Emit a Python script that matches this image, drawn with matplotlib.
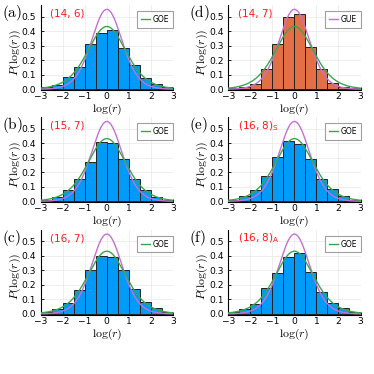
import numpy as np
import matplotlib
matplotlib.use("Agg")
import matplotlib.pyplot as plt
from matplotlib.lines import Line2D

plt.rcParams["mathtext.fontset"] = "cm"

# ---- data ----
bin_edges = [-3.0, -2.5, -2.0, -1.5, -1.0, -0.5, 0.0, 0.5, 1.0, 1.5, 2.0, 2.5, 3.0]
hist_a = [0.018, 0.028, 0.083, 0.151, 0.312, 0.385, 0.408, 0.284, 0.165, 0.078, 0.034, 0.014]
hist_b = [0.012, 0.033, 0.077, 0.155, 0.270, 0.410, 0.400, 0.291, 0.155, 0.080, 0.033, 0.010]
hist_c = [0.014, 0.035, 0.077, 0.164, 0.303, 0.397, 0.390, 0.303, 0.171, 0.082, 0.038, 0.014]
hist_d = [0.010, 0.014, 0.038, 0.141, 0.315, 0.500, 0.520, 0.289, 0.139, 0.042, 0.014, 0.007]
hist_e = [0.012, 0.037, 0.079, 0.174, 0.306, 0.417, 0.398, 0.294, 0.157, 0.088, 0.035, 0.012]
hist_f = [0.012, 0.033, 0.070, 0.178, 0.280, 0.390, 0.418, 0.290, 0.154, 0.077, 0.040, 0.012]

panel_letters = ["a", "b", "c", "d", "e", "f"]
panel_titles = ["(14, 6)", "(15, 7)", "(16, 7)", "(14, 7)",
                "(16, 8)$_\\mathregular{S}$", "(16, 8)$_\\mathregular{A}$"]
legend_labels = ["GOE", "GOE", "GOE", "GUE", "GOE", "GOE"]
hists = [hist_a, hist_b, hist_c, hist_d, hist_e, hist_f]

# Wigner-like surmise for ratio distribution (Atas et al.), beta = 1 (GOE), 2 (GUE)
beta_goe = 1
beta_gue = 2
Z_goe = 8.0 / 27.0
Z_gue = 4.0 * np.pi / (81.0 * np.sqrt(3.0))

xticks = [-3, -2, -1, 0, 1, 2, 3]
xticklabels = ["\u22123", "\u22122", "\u22121", "0", "1", "2", "3"]
yticks = [0.0, 0.1, 0.2, 0.3, 0.4, 0.5]
yticklabels = ["0.0", "0.1", "0.2", "0.3", "0.4", "0.5"]

def surmise_logr(logr, beta, Z):
    r = np.exp(logr)
    return r * (r + r**2) ** beta / (Z * (1 + r + r**2) ** (1 + 1.5 * beta))

blue = "#009AF9"
orange = "#E36F47"
green = "#3DA44E"
purple = "#C371D2"

fig = plt.figure(figsize=(3.74, 3.74), dpi=100)
W = H = 374.0
left_x = [40.7, 228.3]
ax_w = 132.2
bottoms = [90.3, 202.4, 315.0]
ax_h = 85.1

xs = np.linspace(-3.05, 3.05, 400)
for i in range(6):
    col = i // 3
    row = i % 3
    ax = fig.add_axes([left_x[col] / W, 1 - bottoms[row] / H, ax_w / W, ax_h / H])
    color = orange if i == 3 else blue
    edges = np.array(bin_edges)
    ax.bar(edges[:-1], hists[i], width=np.diff(edges), align="edge",
           color=color, edgecolor="#222222", linewidth=0.7, zorder=2)
    g = surmise_logr(xs, beta_goe, Z_goe)
    u = surmise_logr(xs, beta_gue, Z_gue)
    ax.plot(xs, u, color=purple, lw=1.0, zorder=3)
    ax.plot(xs, g, color=green, lw=1.0, zorder=3)
    ax.set_xlim(-3.0, 3.0)
    ax.set_ylim(-0.007, 0.58)
    ax.set_xticks(xticks)
    ax.set_xticklabels(xticklabels)
    ax.set_yticks(yticks)
    ax.set_yticklabels(yticklabels)
    ax.tick_params(labelsize=6.6, length=2, width=0.6, direction="in")
    ax.tick_params(axis="x", pad=1.5)
    ax.tick_params(axis="y", pad=3.2)
    ax.grid(True, color="#e8e8e8", lw=0.5, zorder=0)
    ax.set_axisbelow(True)
    for s in ["top", "right"]:
        ax.spines[s].set_visible(False)
    for s in ["left", "bottom"]:
        ax.spines[s].set_linewidth(0.8)
    ax.set_xlabel(r"$\log(r)$", fontsize=8.5)
    ax.xaxis.set_label_coords(0.5, -0.135)
    ax.set_ylabel(r"$P(\log(r))$", fontsize=8.5)
    ax.yaxis.set_label_coords(-0.135, 0.45)
    ax.text(0.07, 0.90, panel_titles[i], transform=ax.transAxes, color="#FF1A1A",
            fontsize=7.5, ha="left", va="center")
    fig.text((left_x[col] - 39) / W, 1 - (bottoms[row] - 77) / H,
             r"$(\mathrm{%s})$" % panel_letters[i],
             fontsize=11, ha="left", va="center")
    lc = purple if i == 3 else green
    h = Line2D([0], [0], color=lc, lw=1.0)
    leg = ax.legend([h], [legend_labels[i]], loc="upper right", fontsize=5.5,
                    frameon=True, fancybox=False, handlelength=1.2,
                    borderpad=0.5, handletextpad=0.3, borderaxespad=0,
                    bbox_to_anchor=(1.0, 0.93))
    leg.get_frame().set_edgecolor("#888888")
    leg.get_frame().set_linewidth(0.8)

fig.savefig("out.png", dpi=100)
